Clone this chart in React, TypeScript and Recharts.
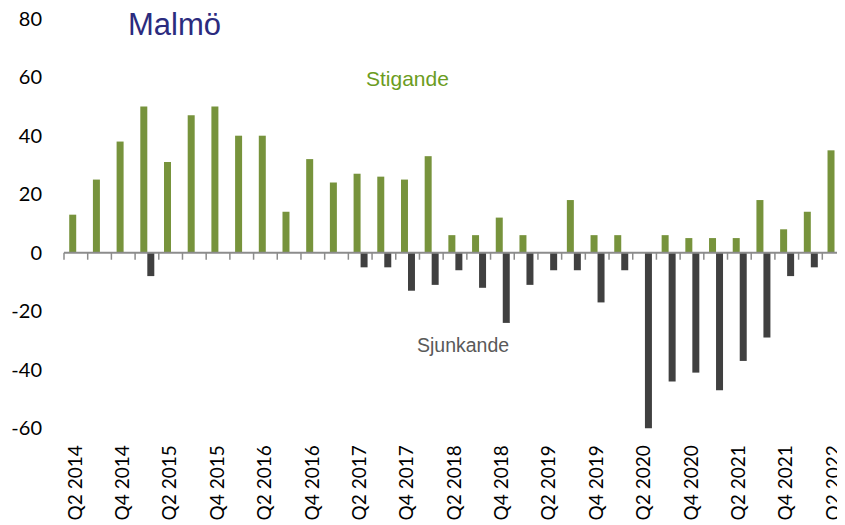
import React from "react";
import { Bar, BarChart, ReferenceLine, XAxis, YAxis } from "recharts";

const quarters = [
  "Q2 2014", "Q3 2014", "Q4 2014", "Q1 2015",
  "Q2 2015", "Q3 2015", "Q4 2015", "Q1 2016",
  "Q2 2016", "Q3 2016", "Q4 2016", "Q1 2017",
  "Q2 2017", "Q3 2017", "Q4 2017", "Q1 2018",
  "Q2 2018", "Q3 2018", "Q4 2018", "Q1 2019",
  "Q2 2019", "Q3 2019", "Q4 2019", "Q1 2020",
  "Q2 2020", "Q3 2020", "Q4 2020", "Q1 2021",
  "Q2 2021", "Q3 2021", "Q4 2021", "Q1 2022",
  "Q2 2022",
];

const stigande = [
  13, 25, 38, 50,
  31, 47, 50, 40,
  40, 14, 32, 24,
  27, 26, 25, 33,
  6, 6, 12, 6,
  0, 18, 6, 6,
  0, 6, 5, 5,
  5, 18, 8, 14,
  35,
];

const sjunkande = [
  0, 0, 0, -8,
  0, 0, 0, 0,
  0, 0, 0, 0,
  -5, -5, -13, -11,
  -6, -12, -24, -11,
  -6, -6, -17, -6,
  -60, -44, -41, -47,
  -37, -29, -8, -5,
  0,
];

const yTicks = [-60, -40, -20, 0, 20, 40, 60, 80];

const data = quarters.map((q, i) => ({
  quarter: q,
  stigande: stigande[i],
  sjunkande: sjunkande[i],
}));

const GREEN = "#77933C";
const GREY = "#404040";
const AXIS = "#8C8C8C";

// rotated quarter labels, reading bottom to top
const QuarterTick = ({ x, y, payload }: any) => (
  <text
    transform={`translate(${x},${y}) rotate(-90)`}
    textAnchor="end"
    dy="0.3em"
    fontSize={19}
    fontFamily="Lato, sans-serif"
    fill="#000"
  >
    {payload.value}
  </text>
);

export default function App() {
  return (
    <div
      style={{
        position: "relative",
        width: 845,
        height: 525,
        margin: "-8px 0 0 -8px",
        overflow: "hidden",
        background: "#fff",
      }}
    >
      <BarChart
        width={846}
        height={525}
        data={data}
        margin={{ top: 18.7, right: 0, bottom: 0, left: 0 }}
        barCategoryGap="22%"
        barGap={0}
      >
        <XAxis
          dataKey="quarter"
          interval={1}
          axisLine={false}
          tickLine={false}
          tickSize={0}
          tickMargin={17}
          height={96.8}
          tick={<QuarterTick />}
        />
        <YAxis
          domain={[-60, 80]}
          ticks={yTicks}
          width={64}
          axisLine={false}
          tickLine={false}
          tickSize={0}
          tickMargin={22}
          tick={{ fill: "#000", fontSize: 20, fontFamily: "Lato, sans-serif" }}
        />
        <ReferenceLine y={0} stroke={AXIS} strokeWidth={2} />
        {quarters.map(q => (
          <ReferenceLine
            key={q}
            position="start"
            segment={[{ x: q, y: 0 }, { x: q, y: -2.4 }]}
            stroke={AXIS}
            strokeWidth={1.5}
          />
        ))}
        <Bar dataKey="stigande" fill={GREEN} isAnimationActive={false} />
        <Bar dataKey="sjunkande" fill={GREY} isAnimationActive={false} />
      </BarChart>
      <svg
        width={845}
        height={525}
        style={{ position: "absolute", left: 0, top: 0, pointerEvents: "none" }}
      >
        <text x={128} y={35} fontSize={31} fontFamily="Liberation Sans, Arial, sans-serif" fill="#2B2B7E">
          Malmö
        </text>
        <text x={366} y={85.5} fontSize={21} fontFamily="Liberation Sans, Arial, sans-serif" fill="#6B9C21">
          Stigande
        </text>
        <text x={417} y={352} fontSize={19.5} fontFamily="Liberation Sans, Arial, sans-serif" fill="#595959">
          Sjunkande
        </text>
      </svg>
    </div>
  );
}
